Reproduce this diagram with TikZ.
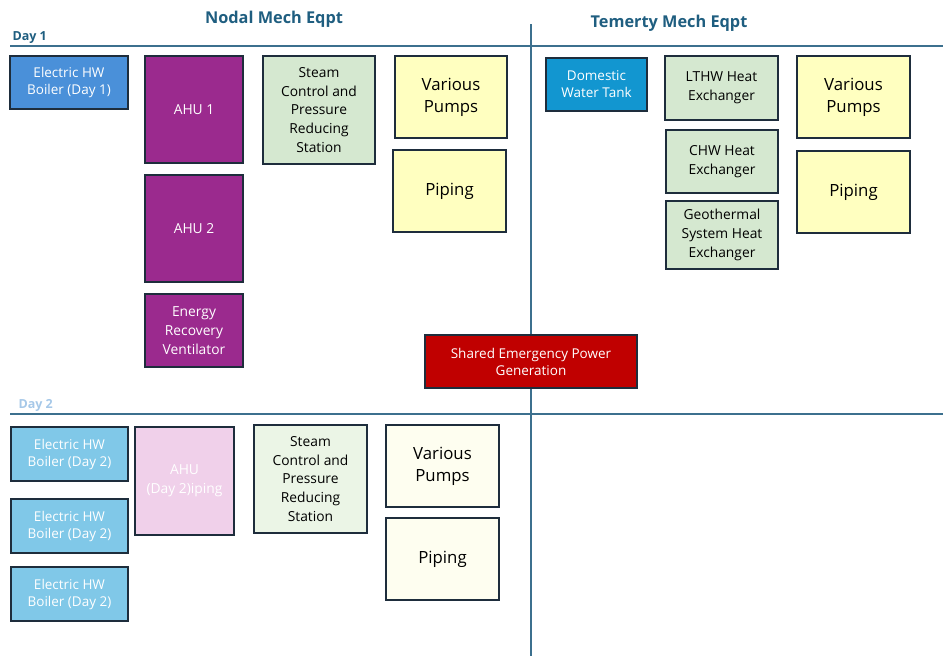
\documentclass[tikz,border=0pt]{standalone}
\usepackage{fontspec}
\setmainfont{Open Sans}
\definecolor{titlec}{RGB}{31,94,128}
\definecolor{linec}{RGB}{60,112,142}
\definecolor{bordc}{RGB}{30,45,60}
\definecolor{blueA}{RGB}{74,144,217}
\definecolor{purpA}{RGB}{155,42,142}
\definecolor{greenA}{RGB}{213,232,208}
\definecolor{yellA}{RGB}{255,255,192}
\definecolor{dwtc}{RGB}{18,150,208}
\definecolor{redA}{RGB}{192,0,0}
\definecolor{blueB}{RGB}{128,200,232}
\definecolor{pinkB}{RGB}{240,208,234}
\definecolor{greenB}{RGB}{235,245,230}
\definecolor{yellB}{RGB}{254,254,240}
\definecolor{dayB}{RGB}{166,200,232}
\tikzset{
  box/.style={draw=bordc, line width=1.8pt, align=center, inner sep=0pt, outer sep=0pt},
  small/.style={font=\fontsize{13.5}{17}\selectfont},
  mid/.style={font=\fontsize{13.8}{18.7}\selectfont},
  big/.style={font=\fontsize{16.8}{22}\selectfont},
  sep/.style={draw=linec, line width=1.6pt},
  ttl/.style={font=\fontsize{16.3}{19}\selectfont\bfseries, text=titlec},
}
\begin{document}
\begin{tikzpicture}[x=1pt,y=-1pt]
\useasboundingbox (0,0) rectangle (943,656);
% separators
\coordinate (h1a) at (10,46); \coordinate (h1b) at (943,46);
\coordinate (h2a) at (10,414); \coordinate (h2b) at (943,414);
\coordinate (v1a) at (531,24); \coordinate (v1b) at (531,656);
\draw[sep] (h1a) -- (h1b);
\draw[sep] (h2a) -- (h2b);
\draw[sep] (v1a) -- (v1b);
% titles
\node[ttl] (t1) at (274,19) {Nodal Mech Eqpt};
\node[ttl] (t2) at (669,23) {Temerty Mech Eqpt};
\node[ttl, font=\fontsize{12.5}{15}\selectfont\bfseries, anchor=west] (d1) at (9,38) {Day 1};
\node[font=\fontsize{12.5}{15}\selectfont\bfseries, text=dayB, anchor=west] (d2) at (15,405) {Day 2};
% Day 1 Nodal
\node[box, small, fill=blueA, text=white, minimum width=118, minimum height=53] (b1) at (69,82.5) {Electric HW\\Boiler (Day 1)};
\node[box, mid, fill=purpA, text=white, minimum width=98, minimum height=107] (ahu1) at (194,109.5) {AHU 1};
\node[box, mid, fill=purpA, text=white, minimum width=98, minimum height=107] (ahu2) at (194,228.5) {AHU 2};
\node[box, mid, fill=purpA, text=white, minimum width=98, minimum height=73] (erv) at (194,330.5) {Energy\\Recovery\\Ventilator};
\node[box, mid, fill=greenA, text=black, minimum width=112, minimum height=108] (st1) at (319,110) {Steam\\Control and\\Pressure\\Reducing\\Station};
\node[box, big, fill=yellA, text=black, minimum width=112, minimum height=82] (vp1) at (451,97) {Various\\Pumps};
\node[box, big, fill=yellA, text=black, minimum width=113, minimum height=82] (pp1) at (449.5,191) {Piping};
% Day 1 Temerty
\node[box, small, fill=dwtc, text=white, minimum width=101, minimum height=53] (dwt) at (596.5,84.5) {Domestic\\Water Tank};
\node[box, mid, fill=greenA, text=black, minimum width=113, minimum height=64] (lthw) at (721.5,88) {LTHW Heat\\Exchanger};
\node[box, mid, fill=greenA, text=black, minimum width=112, minimum height=63] (chw) at (722,161.5) {CHW Heat\\Exchanger};
\node[box, mid, fill=greenA, text=black, minimum width=112, minimum height=68] (geo) at (722,235) {Geothermal\\System Heat\\Exchanger};
\node[box, big, fill=yellA, text=black, minimum width=113, minimum height=82] (vp2) at (853.5,97) {Various\\Pumps};
\node[box, big, fill=yellA, text=black, minimum width=113, minimum height=82] (pp2) at (853.5,192) {Piping};
% Shared
\node[box, small, fill=redA, text=white, minimum width=212, minimum height=53] (gen) at (531,361.5) {Shared Emergency Power\\Generation};
% Day 2
\node[box, small, fill=blueB, text=white, minimum width=117, minimum height=54] (b2a) at (69.5,454) {Electric HW\\Boiler (Day 2)};
\node[box, small, fill=blueB, text=white, minimum width=117, minimum height=54] (b2b) at (69.5,526) {Electric HW\\Boiler (Day 2)};
\node[box, small, fill=blueB, text=white, minimum width=117, minimum height=54] (b2c) at (69.5,594) {Electric HW\\Boiler (Day 2)};
\node[box, mid, fill=pinkB, text=white, minimum width=99, minimum height=108] (ahu3) at (184.5,481) {AHU\\(Day 2)iping};
\node[box, mid, fill=greenB, text=black, minimum width=113, minimum height=108] (st2) at (310.5,479) {Steam\\Control and\\Pressure\\Reducing\\Station};
\node[box, big, fill=yellB, text=black, minimum width=113, minimum height=82] (vp3) at (442.5,466) {Various\\Pumps};
\node[box, big, fill=yellB, text=black, minimum width=113, minimum height=82] (pp3) at (442.5,559) {Piping};
\end{tikzpicture}
\end{document}
